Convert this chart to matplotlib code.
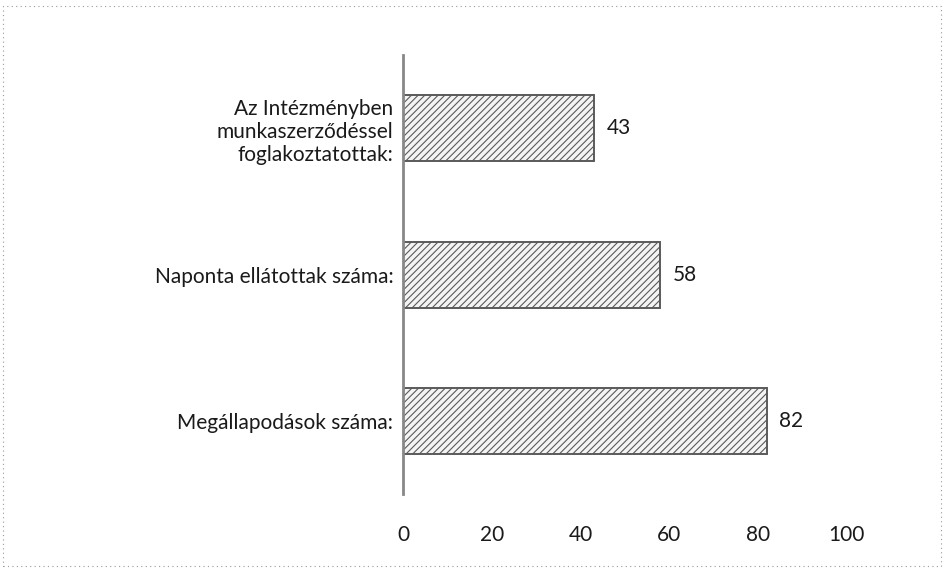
import matplotlib.pyplot as plt
from matplotlib.patches import Rectangle

plt.rcParams['font.family'] = ['Lato', 'DejaVu Sans']
plt.rcParams['hatch.color'] = '#6a6a6a'
plt.rcParams['hatch.linewidth'] = 0.8

categories = ['Az Intézményben\nmunkaszerződéssel\nfoglakoztatottak:',
              'Naponta ellátottak száma:',
              'Megállapodások száma:']
values = [43, 58, 82]
xticks = [0, 20, 40, 60, 80, 100]

fig = plt.figure(figsize=(9.44, 5.72), dpi=100)
ax = fig.add_axes([0.427, 0.136, 0.470, 0.768])

pos = list(range(len(categories)))
bars = ax.barh(pos, values, height=0.45, color='#f4f4f4', edgecolor='#5a5a5a',
               linewidth=1.4, hatch='/////')
for b, v in zip(bars, values):
    ax.text(v + 2.8, b.get_y() + b.get_height() / 2, str(v), va='center', ha='left',
            fontsize=15, color='#1a1a1a')

ax.set_xlim(0, 100)
ax.set_ylim(2.5, -0.5)
ax.set_xticks(xticks)
ax.set_yticks(pos)
ax.set_yticklabels(categories, fontsize=15, color='#1a1a1a', linespacing=1.2)
ax.tick_params(axis='x', length=0, pad=22, labelsize=15, labelcolor='#1a1a1a')
ax.tick_params(axis='y', length=0, pad=7)
for s in ['top', 'right', 'bottom']:
    ax.spines[s].set_visible(False)
ax.spines['left'].set_color('#888888')
ax.spines['left'].set_linestyle((0, (1, 1)))
ax.spines['left'].set_linewidth(2)

# dotted frame around the chart area
fig.patches.append(Rectangle((0.003, 0.01), 0.994, 0.98, transform=fig.transFigure,
                             fill=False, edgecolor='#999999', linestyle=(0, (1, 3)),
                             linewidth=0.8))

fig.savefig('out.png', dpi=100, facecolor='white')
